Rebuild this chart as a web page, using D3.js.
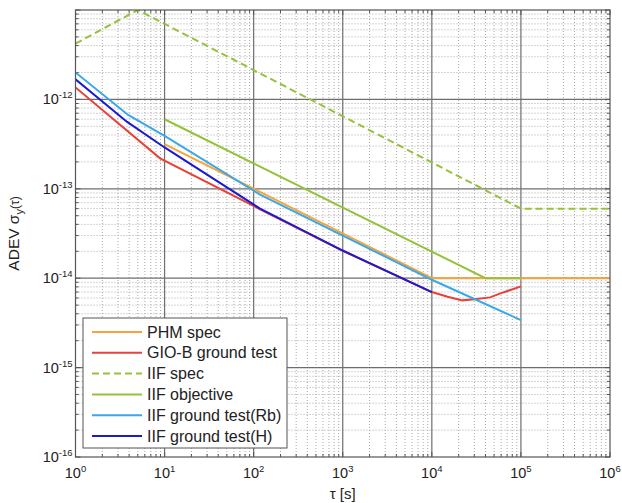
<!DOCTYPE html>
<html>
<head>
<meta charset="utf-8">
<script src="https://cdn.jsdelivr.net/npm/d3@7"></script>
<style>
  body { margin: 0; background: #fff; }
  svg text { font-family: "Liberation Sans", Arial, sans-serif; fill: #222; }
</style>
</head>
<body>
<div id="chart"></div>
<script>
// tick exponents
let xExponents = [0, 1, 2, 3, 4, 5, 6];
let yExponents = [-16, -15, -14, -13, -12, -11];

// series: [tau, adev]
let phmSpec = [[10, 3.16e-13], [1e4, 1e-14], [1e6, 1e-14]];
let gioB = [[1, 1.36e-12], [8.9, 2.19e-13], [118, 5.9e-14], [1e3, 2.02e-14], [1e4, 7.0e-15],
  [1.5e4, 6.2e-15], [2.2e4, 5.65e-15], [3e4, 5.8e-15], [4.5e4, 6.1e-15], [6e4, 6.8e-15], [1e5, 8.1e-15]];
let iifSpec = [[1, 4.2e-12], [5, 1e-11], [1e5, 6e-14], [1e6, 6e-14]];
let iifObjective = [[10, 6.0e-13], [4e4, 1e-14], [1e5, 1e-14]];
let iifRb = [[1, 2.0e-12], [3.9, 6.7e-13], [10, 3.9e-13], [118, 8.6e-14], [1e3, 3.0e-14], [1e4, 9.6e-15], [1e5, 3.4e-15]];
let iifH = [[1, 1.68e-12], [3.8, 5.6e-13], [10, 2.9e-13], [118, 6.0e-14], [1e3, 2.04e-14], [1e4, 7.0e-15]];

let seriesNames = ["PHM spec", "GIO-B ground test", "IIF spec", "IIF objective", "IIF ground test(Rb)", "IIF ground test(H)"];
let seriesData = [phmSpec, gioB, iifSpec, iifObjective, iifRb, iifH];
let seriesColors = ["#f7a43a", "#e8413a", "#97c13a", "#97c13a", "#3aa8e8", "#1a1ad0"];
let seriesDash = [null, null, "7,4", null, null, null];

let width = 622, height = 503;
let margin = { top: 10, right: 12, bottom: 46, left: 75.5 };

let x = d3.scaleLog().domain([1, 1e6]).range([margin.left, width - margin.right]);
let y = d3.scaleLog().domain([1e-16, 1e-11]).range([height - margin.bottom, margin.top]);

const svg = d3.select("#chart").append("svg")
  .attr("width", width)
  .attr("height", height);

let x0 = x.range()[0], x1 = x.range()[1];
let y0 = y.range()[1], y1 = y.range()[0];

// minor values
let xMinor = [];
xExponents.slice(0, -1).forEach(e => { for (let k = 2; k < 10; k++) xMinor.push(k * Math.pow(10, e)); });
let yMinor = [];
yExponents.slice(0, -1).forEach(e => { for (let k = 2; k < 10; k++) yMinor.push(k * Math.pow(10, e)); });
let xMajor = xExponents.map(e => Math.pow(10, e));
let yMajor = yExponents.map(e => Math.pow(10, e));

const grid = svg.append("g");
grid.selectAll(".xminor").data(xMinor).enter().append("line")
  .attr("x1", d => x(d)).attr("x2", d => x(d)).attr("y1", y0).attr("y2", y1)
  .attr("stroke", "#aaa").attr("stroke-width", 1).attr("stroke-dasharray", "1,2");
grid.selectAll(".yminor").data(yMinor).enter().append("line")
  .attr("y1", d => y(d)).attr("y2", d => y(d)).attr("x1", x0).attr("x2", x1)
  .attr("stroke", "#aaa").attr("stroke-width", 1).attr("stroke-dasharray", "1,2");
grid.selectAll(".xmajor").data(xMajor.slice(1, -1)).enter().append("line")
  .attr("x1", d => x(d)).attr("x2", d => x(d)).attr("y1", y0).attr("y2", y1)
  .attr("stroke", "#6e6e6e").attr("stroke-width", 1.2);
grid.selectAll(".ymajor").data(yMajor.slice(1, -1)).enter().append("line")
  .attr("y1", d => y(d)).attr("y2", d => y(d)).attr("x1", x0).attr("x2", x1)
  .attr("stroke", "#6e6e6e").attr("stroke-width", 1.2);

// inward ticks on all four sides
const ticks = svg.append("g").attr("stroke", "#555").attr("stroke-width", 1);
xMinor.concat(xMajor).forEach(v => {
  let len = xMajor.includes(v) ? 5 : 3;
  ticks.append("line").attr("x1", x(v)).attr("x2", x(v)).attr("y1", y1).attr("y2", y1 - len);
  ticks.append("line").attr("x1", x(v)).attr("x2", x(v)).attr("y1", y0).attr("y2", y0 + len);
});
yMinor.concat(yMajor).forEach(v => {
  let len = yMajor.includes(v) ? 5 : 3;
  ticks.append("line").attr("y1", y(v)).attr("y2", y(v)).attr("x1", x0).attr("x2", x0 + len);
  ticks.append("line").attr("y1", y(v)).attr("y2", y(v)).attr("x1", x1).attr("x2", x1 - len);
});

// series lines
let line = d3.line().x(d => x(d[0])).y(d => y(d[1]));
svg.append("clipPath").attr("id", "plotclip").append("rect")
  .attr("x", x0).attr("y", y0).attr("width", x1 - x0).attr("height", y1 - y0);
svg.append("g").attr("clip-path", "url(#plotclip)")
  .selectAll("path").data(seriesData).enter().append("path")
  .attr("d", line)
  .attr("fill", "none")
  .attr("stroke", (d, i) => seriesColors[i])
  .attr("stroke-width", 2)
  .attr("stroke-dasharray", (d, i) => seriesDash[i]);

// frame
svg.append("rect").attr("x", x0).attr("y", y0).attr("width", x1 - x0).attr("height", y1 - y0)
  .attr("fill", "none").attr("stroke", "#555").attr("stroke-width", 1.2);

// tick labels
xExponents.forEach(e => {
  let t = svg.append("text").attr("x", x(Math.pow(10, e))).attr("y", y1 + 21)
    .attr("text-anchor", "middle").style("font-size", "14.5px");
  t.append("tspan").text("10");
  t.append("tspan").text(e).attr("dy", -6).style("font-size", "9.5px");
});
yExponents.slice(0, -1).forEach(e => {
  let t = svg.append("text").attr("x", x0 - 3).attr("y", y(Math.pow(10, e)) + 5)
    .attr("text-anchor", "end").style("font-size", "14.5px");
  t.append("tspan").text("10");
  t.append("tspan").text(e).attr("dy", -6).style("font-size", "9.5px");
});

// axis titles
svg.append("text").attr("x", x(1e3)).attr("y", 499).attr("text-anchor", "middle")
  .style("font-size", "15px").text("τ [s]");
let yl = svg.append("text").attr("transform", `translate(19 ${(y0 + y1) / 2}) rotate(-90)`)
  .attr("text-anchor", "middle").style("font-size", "15.5px");
yl.append("tspan").text("ADEV σ");
yl.append("tspan").text("y").attr("dy", 4).style("font-size", "11px");
yl.append("tspan").text("(τ)").attr("dy", -4).style("font-size", "12px");

// legend
const legend = svg.append("g").attr("transform", "translate(83 318)");
legend.append("rect").attr("width", 204).attr("height", 130)
  .attr("fill", "#fff").attr("stroke", "#555").attr("stroke-width", 1);
seriesNames.forEach((name, i) => {
  let ly = 14 + i * 20.8;
  legend.append("line").attr("x1", 9).attr("x2", 59).attr("y1", ly).attr("y2", ly)
    .attr("stroke", seriesColors[i]).attr("stroke-width", 2)
    .attr("stroke-dasharray", seriesDash[i]);
  legend.append("text").attr("x", 64).attr("y", ly + 5.5).style("font-size", "16px").text(name);
});
</script>
</body>
</html>
